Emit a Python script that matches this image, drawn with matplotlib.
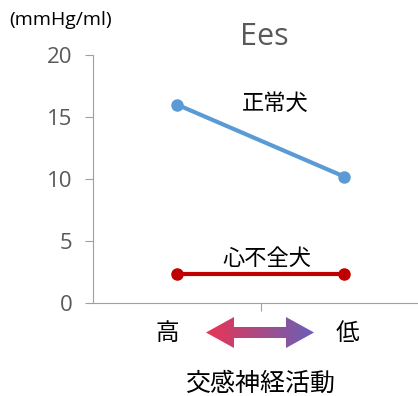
import matplotlib
matplotlib.use("Agg")
import matplotlib.pyplot as plt
import numpy as np
from matplotlib.path import Path
from matplotlib.patches import PathPatch

plt.rcParams['font.family'] = ['Noto Sans CJK JP', 'DejaVu Sans']

# data
levels = ["高", "低"]
normal = [16.0, 10.2]
failure = [2.3, 2.3]
y_ticks = [0, 5, 10, 15, 20]

GRAY = "#595959"
BLUE = "#5b9bd5"
RED = "#c00000"

fig = plt.figure(figsize=(4.18, 3.96), dpi=100)
ax = fig.add_axes([93 / 418, 93 / 396, 325 / 418, 248 / 396])

x = np.arange(len(levels))
ax.plot(x, normal, color=BLUE, lw=3, marker="o", ms=8)
ax.plot(x, failure, color=RED, lw=3, marker="o", ms=8)

ax.set_xlim(-0.503, 1.443)
ax.set_ylim(0, 20)
ax.set_yticks(y_ticks)
ax.set_xticks([0.5])
ax.set_xticklabels([""])
ax.tick_params(axis="y", colors="#a0a0a0", labelcolor=GRAY, labelsize=16,
               length=6, direction="out", pad=9)
ax.tick_params(axis="x", colors="#a0a0a0", length=6, direction="out")
for lab in ax.get_yticklabels():
    lab.set_family(["Open Sans", "DejaVu Sans"])
for s in ["top", "right"]:
    ax.spines[s].set_visible(False)
for s in ["left", "bottom"]:
    ax.spines[s].set_color("#a0a0a0")

ax.text(0.59, 16.1, "正常犬", fontsize=16, ha="center", va="center")
ax.text(0.54, 3.6, "心不全犬", fontsize=16, ha="center", va="center")

fig.text(264 / 418, 1 - 37 / 396, "Ees", fontsize=22, color=GRAY,
         ha="center", va="center", family=["Open Sans", "DejaVu Sans"])
fig.text(9 / 418, 1 - 20 / 396, "(mmHg/ml)", fontsize=14, color="black",
         ha="left", va="center", family=["Open Sans", "DejaVu Sans"])

# category labels below axis
for xi, lab in zip(x, levels):
    ax.annotate(lab, xy=(xi - 0.06 if xi == 0 else xi + 0.02, 0),
                xycoords="data", xytext=(0, -22),
                textcoords="offset points", ha="center", va="center",
                fontsize=17)
ax.annotate("交感神経活動", xy=(0.5, 0), xytext=(0, -58),
            textcoords="offset points", ha="center", va="center", fontsize=18)

# gradient double arrow
aax = fig.add_axes([206 / 418, 1 - 348 / 396, 108 / 418, 31 / 396])
aax.set_xlim(0, 108)
aax.set_ylim(0, 31)
aax.axis("off")
verts = [(0, 15.5), (28, 31), (28, 21), (80, 21), (80, 31), (108, 15.5),
         (80, 0), (80, 10), (28, 10), (28, 0), (0, 15.5)]
codes = [Path.MOVETO] + [Path.LINETO] * (len(verts) - 2) + [Path.CLOSEPOLY]
patch = PathPatch(Path(verts, codes), facecolor="none", edgecolor="none")
aax.add_patch(patch)
c1 = np.array([234, 52, 84]) / 255
c2 = np.array([104, 96, 184]) / 255
t = np.linspace(0, 1, 256)
grad = (c1[None, :] * (1 - t[:, None]) + c2[None, :] * t[:, None])[None, :, :]
im = aax.imshow(grad, extent=[0, 108, 0, 31], aspect="auto")
im.set_clip_path(patch)

plt.savefig("out.png", dpi=100)
plt.close()
